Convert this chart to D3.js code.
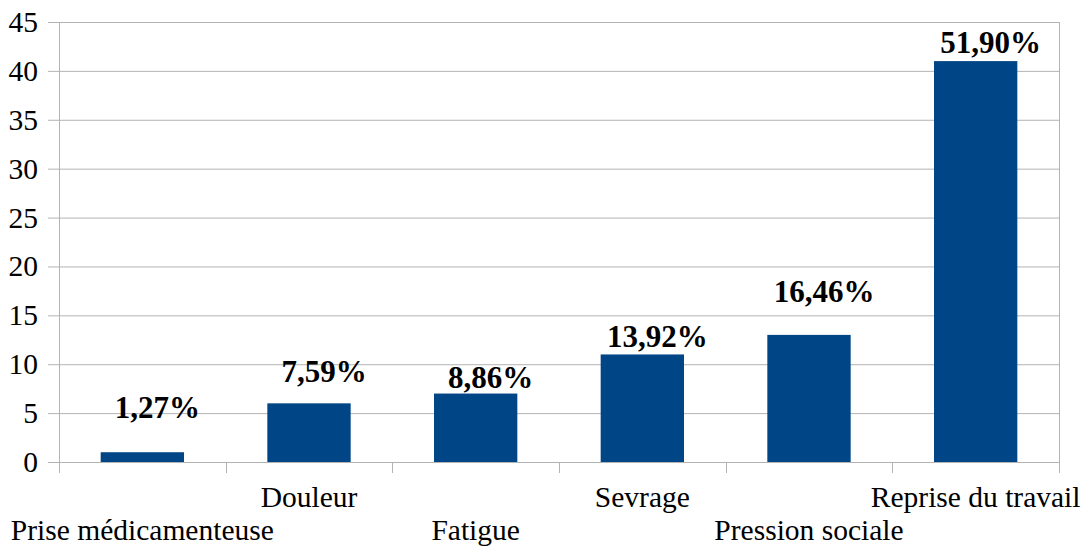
<!DOCTYPE html>
<html>
<head>
<meta charset="utf-8">
<script src="https://cdn.jsdelivr.net/npm/d3@7"></script>
<style>
  body { margin: 0; background: #fff; }
</style>
</head>
<body>
<div class="canvas"></div>
<script>
// chart data
const categories = ['Prise médicamenteuse', 'Douleur', 'Fatigue', 'Sevrage', 'Pression sociale', 'Reprise du travail']
const values = [1, 6, 7, 11, 13, 41]
const labels = ['1,27%', '7,59%', '8,86%', '13,92%', '16,46%', '51,90%']
// where each label sits, in axis units
const labelAt = [4.5, 8.2, 7.6, 11.75, 16.35, 41.8]
const yTicks = [0, 5, 10, 15, 20, 25, 30, 35, 40, 45]

const width = 1092
const height = 547
const plotLeft = 59, plotRight = 1059, plotTop = 22, plotBottom = 462
const serif = "'Liberation Serif', 'Times New Roman', serif"

const svg = d3.select('.canvas').append('svg')
    .attr('width', width)
    .attr('height', height)
    .style('font-family', serif)

const x = d3.scaleBand()
    .domain(categories)
    .range([plotLeft, plotRight])
    .paddingInner(0.5)
    .paddingOuter(0.25)

const y = d3.scaleLinear()
    .domain([0, 45])
    .range([plotBottom, plotTop])

// horizontal grid lines
svg.append('g')
    .selectAll('line')
    .data(yTicks)
    .join('line')
    .attr('x1', plotLeft - 11)
    .attr('x2', plotRight)
    .attr('y1', d => y(d) + 0.5)
    .attr('y2', d => y(d) + 0.5)
    .attr('stroke', '#b3b3b3')
    .attr('stroke-width', 1)

// y tick labels
svg.append('g')
    .selectAll('text')
    .data(yTicks)
    .join('text')
    .attr('x', 38)
    .attr('y', d => y(d) + 10)
    .attr('text-anchor', 'end')
    .attr('font-family', serif)
    .attr('font-size', 29.5)
    .attr('fill', '#000')
    .text(d => d)

// left axis and right border
svg.append('line')
    .attr('x1', plotLeft + 0.5).attr('x2', plotLeft + 0.5)
    .attr('y1', plotTop).attr('y2', plotBottom + 11)
    .attr('stroke', '#b3b3b3')
svg.append('line')
    .attr('x1', plotRight + 0.5).attr('x2', plotRight + 0.5)
    .attr('y1', plotTop).attr('y2', plotBottom + 11)
    .attr('stroke', '#b3b3b3')

// category boundary ticks
const bounds = d3.range(categories.length + 1).map(i => plotLeft + i * (plotRight - plotLeft) / categories.length)
svg.append('g')
    .selectAll('line')
    .data(bounds)
    .join('line')
    .attr('x1', d => Math.round(d) + 0.5)
    .attr('x2', d => Math.round(d) + 0.5)
    .attr('y1', plotBottom)
    .attr('y2', plotBottom + 11)
    .attr('stroke', '#b3b3b3')

// bars
svg.append('g')
    .selectAll('rect')
    .data(values)
    .join('rect')
    .attr('x', (d, i) => x(categories[i]))
    .attr('y', d => y(d))
    .attr('width', x.bandwidth())
    .attr('height', d => y(0) - y(d))
    .attr('fill', '#004586')

// value labels
svg.append('g')
    .selectAll('text')
    .data(labels)
    .join('text')
    .attr('x', (d, i) => x(categories[i]) + x.bandwidth() / 2 + 15)
    .attr('y', (d, i) => y(labelAt[i]))
    .attr('text-anchor', 'middle')
    .attr('font-family', serif)
    .attr('font-size', 31)
    .attr('font-weight', 'bold')
    .attr('fill', '#000')
    .text(d => d)

// category labels, staggered on two rows
svg.append('g')
    .selectAll('text')
    .data(categories)
    .join('text')
    .attr('x', d => x(d) + x.bandwidth() / 2)
    .attr('y', (d, i) => i % 2 === 0 ? 540 : 507)
    .attr('text-anchor', 'middle')
    .attr('font-family', serif)
    .attr('font-size', 29.5)
    .attr('fill', '#000')
    .text(d => d)
</script>
</body>
</html>
